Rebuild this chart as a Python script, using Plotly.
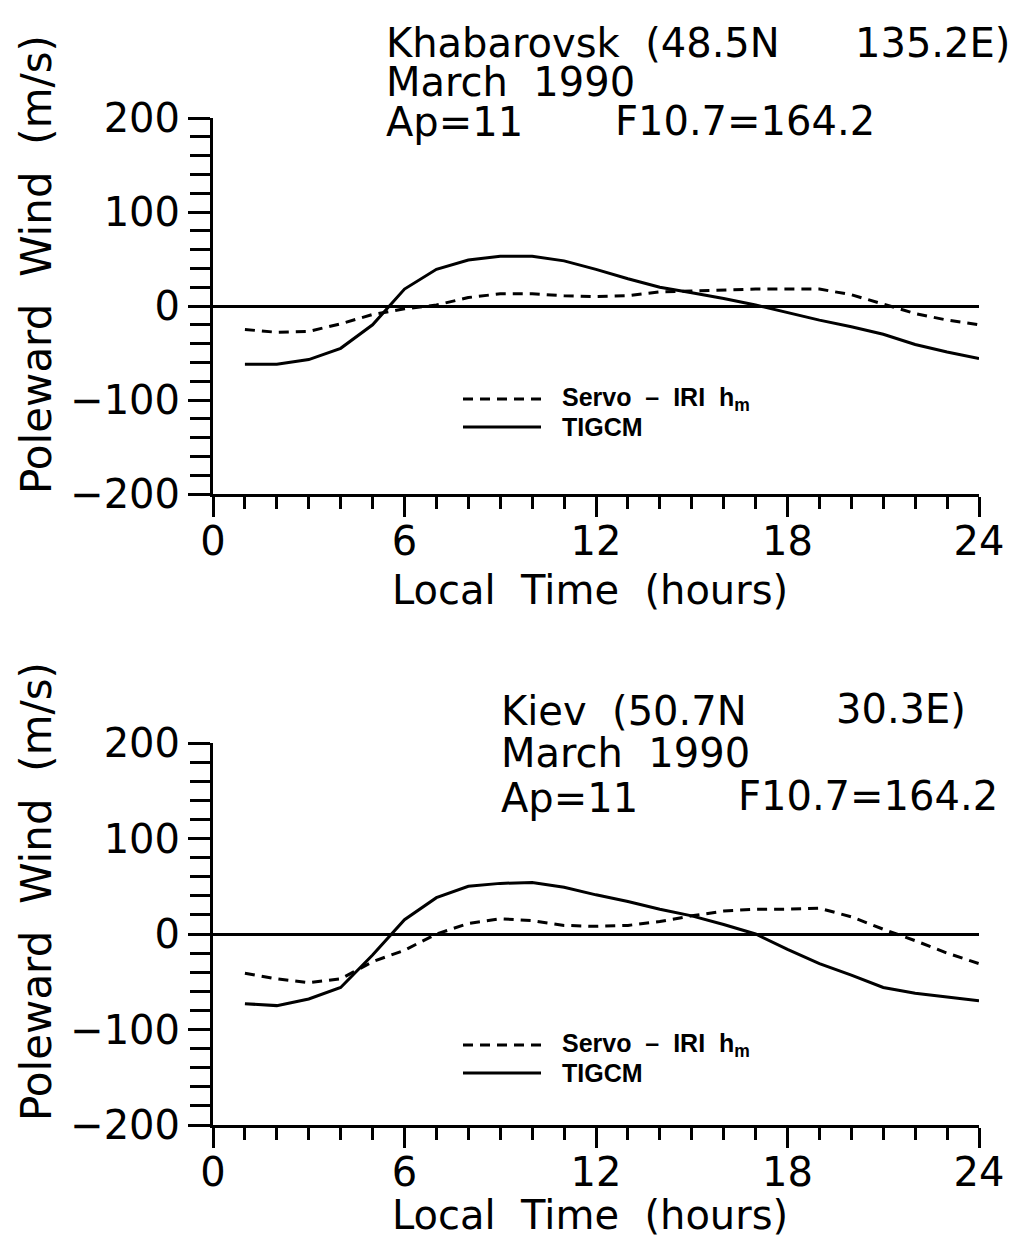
import plotly.graph_objects as go

# ---------------- data ----------------
hours = list(range(1, 25))

kh_servo = [-25, -28, -27, -19, -9, -3, 1, 9, 13, 13, 11, 10,
            11, 15, 16, 17, 18, 18, 18, 12, 2, -8, -15, -20]
kh_tigcm = [-62, -62, -57, -45, -20, 18, 39, 49, 53, 53, 48, 39,
            29, 20, 14, 8, 1, -7, -15, -22, -30, -41, -49, -56]

kv_servo = [-41, -47, -51, -47, -29, -17, 0, 11, 16, 14, 9, 8,
            9, 13, 19, 24, 26, 26, 27, 18, 5, -7, -20, -31]
kv_tigcm = [-73, -75, -68, -56, -22, 15, 38, 50, 53, 54, 49, 41,
            34, 26, 19, 10, 0, -16, -31, -43, -56, -62, -66, -70]

x_ticks = [0, 6, 12, 18, 24]
y_ticks = [-200, -100, 0, 100, 200]

station_top = ["Khabarovsk\u00a0\u00a0(48.5N", "135.2E)"]
station_bot = ["Kiev\u00a0\u00a0(50.7N", "30.3E)"]
month_text = "March\u00a0\u00a01990"
ap_text = "Ap=11"
f107_text = "F10.7=164.2"
legend_names = ["Servo\u00a0\u00a0\u2013\u00a0\u00a0IRI\u00a0\u00a0h<sub>m</sub>", "TIGCM"]

# ---------------- layout helpers ----------------
W, H = 1025, 1240
def px(x):
    return x / W
def py(y):
    return 1 - y / H

FONT = "DejaVu Sans, Open Sans, sans-serif"
LFONT = "Liberation Sans, Arial, sans-serif"

fig = go.Figure()

panels = [
    dict(servo=kh_servo, tigcm=kh_tigcm, xa="x", ya="y", yd=[py(494), py(118)]),
    dict(servo=kv_servo, tigcm=kv_tigcm, xa="x2", ya="y2", yd=[py(1125), py(743)]),
]

for p in panels:
    fig.add_trace(go.Scatter(x=hours, y=p["servo"], mode="lines", xaxis=p["xa"], yaxis=p["ya"],
                             line=dict(color="black", width=3, dash="10px,7px"),
                             name="Servo - IRI hm", showlegend=False))
    fig.add_trace(go.Scatter(x=hours, y=p["tigcm"], mode="lines", xaxis=p["xa"], yaxis=p["ya"],
                             line=dict(color="black", width=3),
                             name="TIGCM", showlegend=False))

xaxis_common = dict(
    range=[0, 24], tickvals=x_ticks, ticks="outside", ticklen=20, tickwidth=2.5, tickcolor="black",
    minor=dict(ticks="outside", dtick=1, ticklen=12, tickwidth=2.5, tickcolor="black"),
    showline=True, linewidth=3, linecolor="black", showgrid=False, zeroline=False,
    tickfont=dict(family=FONT, size=40, color="black"), ticklabelstandoff=-10,
    domain=[px(213), px(979)], fixedrange=True, automargin=False,
)
yaxis_common = dict(
    range=[-200, 200], tickvals=y_ticks, ticks="outside", ticklen=22, tickwidth=2.5, tickcolor="black",
    minor=dict(ticks="outside", dtick=20, ticklen=20, tickwidth=2.5, tickcolor="black"),
    showline=True, linewidth=3, linecolor="black", showgrid=False,
    zeroline=True, zerolinecolor="black", zerolinewidth=2.5,
    tickfont=dict(family=FONT, size=40, color="black"), fixedrange=True, automargin=False,
)

fig.update_layout(
    template="none",
    width=W, height=H, margin=dict(l=0, r=0, t=0, b=0, pad=0), autosize=False,
    paper_bgcolor="white", plot_bgcolor="white", showlegend=False,
    xaxis=dict(**xaxis_common, anchor="y"),
    yaxis=dict(**yaxis_common, domain=panels[0]["yd"], anchor="x"),
    xaxis2=dict(**xaxis_common, anchor="y2"),
    yaxis2=dict(**yaxis_common, domain=panels[1]["yd"], anchor="x2"),
)

ann = []
def text(t, x, y, size=40, xanchor="left", family=FONT, angle=0, weight="normal"):
    ann.append(dict(text=t, x=px(x), y=py(y), xref="paper", yref="paper", showarrow=False,
                    xanchor=xanchor, yanchor="middle", textangle=angle,
                    font=dict(family=family, size=size, color="black", weight=weight)))

# panel headers
text(station_top[0], 384, 43)
text(station_top[1], 1012, 43, xanchor="right")
text(month_text, 384, 82)
text(ap_text, 384, 122)
text(f107_text, 613, 121)

text(station_bot[0], 499, 711)
text(station_bot[1], 968, 709, xanchor="right")
text(month_text, 499, 753)
text(ap_text, 499, 798)
text(f107_text, 1000, 796, xanchor="right")

# axis titles
for yc in (265, 892):
    text("Poleward\u00a0\u00a0Wind\u00a0\u00a0(m/s)", 36, yc, size=42, xanchor="center", angle=-90)
for yc in (590, 1215):
    text("Local\u00a0\u00a0Time\u00a0\u00a0(hours)", 590, yc, size=40, xanchor="center")

# legends
shapes = []
for (y1, y2) in ((399, 427), (1045, 1073)):
    shapes.append(dict(type="line", xref="paper", yref="paper", x0=px(463), x1=px(541), y0=py(y1), y1=py(y1),
                       line=dict(color="black", width=3, dash="10px,7px")))
    shapes.append(dict(type="line", xref="paper", yref="paper", x0=px(463), x1=px(541), y0=py(y2), y1=py(y2),
                       line=dict(color="black", width=3)))
    text(legend_names[0], 560, y1, size=25, family=LFONT, weight="bold")
    text(legend_names[1], 560, y2, size=25, family=LFONT, weight="bold")

fig.update_layout(annotations=ann, shapes=shapes)
fig.write_html("out.html")
